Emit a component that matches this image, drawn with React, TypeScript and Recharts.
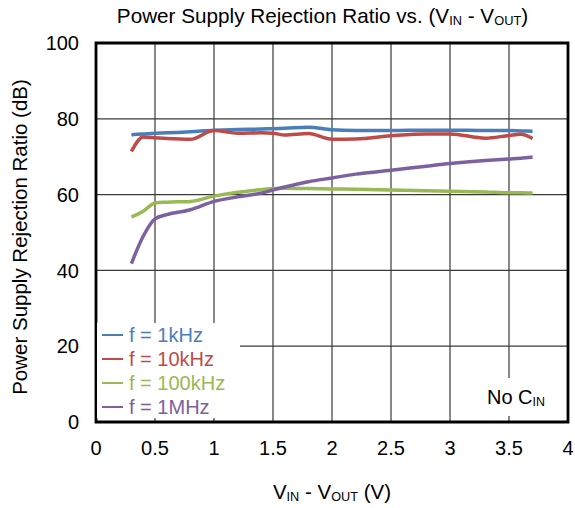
import React from "react";
import {
  LineChart,
  Line,
  XAxis,
  YAxis,
  CartesianGrid,
  Legend,
  ReferenceArea,
} from "recharts";

// V_IN - V_OUT (V)
const vdrop = [0.3, 0.4, 0.5, 0.6, 0.8, 1.0, 1.2, 1.4, 1.5, 1.6, 1.8, 2.0, 2.2, 2.5, 2.8, 3.0, 3.3, 3.5, 3.6, 3.7];

// PSRR (dB) per frequency
const psrr1k = [75.8, 76.0, 76.2, 76.3, 76.6, 77.0, 77.2, 77.3, 77.4, 77.5, 77.8, 77.1, 76.9, 76.9, 77.0, 77.0, 76.9, 76.9, 76.8, 76.7];
const psrr10k = [71.4, 75.2, 75.0, 74.8, 74.6, 76.9, 76.2, 76.3, 76.2, 75.7, 76.1, 74.6, 74.7, 75.5, 76.0, 76.0, 74.9, 75.6, 75.9, 74.8];
const psrr100k = [54.1, 55.6, 57.8, 58.0, 58.2, 59.6, 60.6, 61.3, 61.6, 61.7, 61.6, 61.5, 61.4, 61.2, 61.0, 60.9, 60.7, 60.5, 60.5, 60.4];
const psrr1M = [41.8, 49.0, 53.6, 54.7, 56.0, 58.2, 59.4, 60.4, 61.2, 62.0, 63.4, 64.4, 65.4, 66.4, 67.5, 68.2, 69.0, 69.4, 69.6, 69.9];

const xTicks = [0, 0.5, 1, 1.5, 2, 2.5, 3, 3.5, 4];
const yTicks = [0, 20, 40, 60, 80, 100];

const series = [
  { key: "f1k", name: "f = 1kHz", color: "#4a7ebb", values: psrr1k },
  { key: "f10k", name: "f = 10kHz", color: "#be4b48", values: psrr10k },
  { key: "f100k", name: "f = 100kHz", color: "#98b954", values: psrr100k },
  { key: "f1M", name: "f = 1MHz", color: "#7d60a0", values: psrr1M },
];

const data = vdrop.map((v, i) => {
  const row: Record<string, number> = { v };
  series.forEach((s) => (row[s.key] = s.values[i]));
  return row;
});

const FONT = '"Liberation Sans", Arial, sans-serif';

const Sub = ({ children }: { children: React.ReactNode }) => (
  <span style={{ fontSize: "0.62em", verticalAlign: "-0.18em" }}>{children}</span>
);

// keep the legend in series order (recharts sorts the payload by name)
function LegendBox() {
  return (
    <div style={{ background: "#fff", width: 143, height: 95 }}>
      {series.map((s) => (
        <div
          key={s.key}
          style={{ display: "flex", alignItems: "center", height: 24, fontFamily: FONT, fontSize: 20, color: s.color }}
        >
          <span style={{ display: "inline-block", width: 21, height: 1.5, background: s.color, marginLeft: 5, marginRight: 6 }} />
          {s.name}
        </div>
      ))}
    </div>
  );
}

export default function App() {
  return (
    <div style={{ position: "absolute", left: 0, top: 0, width: 575, height: 508, background: "#fff", fontFamily: FONT }}>
      <LineChart width={575} height={508} data={data} margin={{ top: 43, right: 7, left: 0, bottom: 0 }}>
        <CartesianGrid stroke="#3a3a3a" strokeWidth={1.2} />
        <XAxis
          dataKey="v"
          type="number"
          domain={[0, 4]}
          ticks={xTicks}
          height={86}
          axisLine={false}
          tickLine={false}
          tickSize={0}
          tickMargin={19}
          tick={{ fill: "#000", fontSize: 20, fontFamily: FONT }}
        />
        <YAxis
          type="number"
          domain={[0, 100]}
          ticks={yTicks}
          width={96}
          axisLine={false}
          tickLine={false}
          tickSize={0}
          tickMargin={17}
          tick={{ fill: "#000", fontSize: 20, fontFamily: FONT }}
        />
        <ReferenceArea x1={0} x2={4} y1={0} y2={100} fill="none" stroke="#000" strokeWidth={2.8} />
        {series.map((s) => (
          <Line
            key={s.key}
            dataKey={s.key}
            name={s.name}
            type="monotone"
            stroke={s.color}
            strokeWidth={3.5}
            dot={false}
            isAnimationActive={false}
          />
        ))}
        <Legend
          layout="vertical"
          align="center"
          verticalAlign="middle"
          content={<LegendBox />}
          wrapperStyle={{ left: 97, top: 323, width: 143, height: 95 }}
        />
      </LineChart>

      <div style={{ position: "absolute", left: 0, top: 3, width: 645, textAlign: "center", fontSize: 20.7, lineHeight: "26px" }}>
        Power Supply Rejection Ratio vs. (V<Sub>IN</Sub> - V<Sub>OUT</Sub>)
      </div>
      <div
        style={{
          position: "absolute",
          left: 20 - 200,
          top: 237 - 13,
          width: 400,
          height: 26,
          lineHeight: "26px",
          textAlign: "center",
          fontSize: 20.5,
          transform: "rotate(-90deg)",
        }}
      >
        Power Supply Rejection Ratio (dB)
      </div>
      <div style={{ position: "absolute", left: 96, top: 479, width: 472, textAlign: "center", fontSize: 20.5, lineHeight: "26px" }}>
        V<Sub>IN</Sub> - V<Sub>OUT</Sub> (V)
      </div>
      <div
        style={{
          position: "absolute",
          left: 482,
          top: 378,
          width: 68,
          height: 38,
          background: "#fff",
          fontSize: 20,
          lineHeight: "38px",
          textAlign: "center",
        }}
      >
        No C<Sub>IN</Sub>
      </div>
    </div>
  );
}
